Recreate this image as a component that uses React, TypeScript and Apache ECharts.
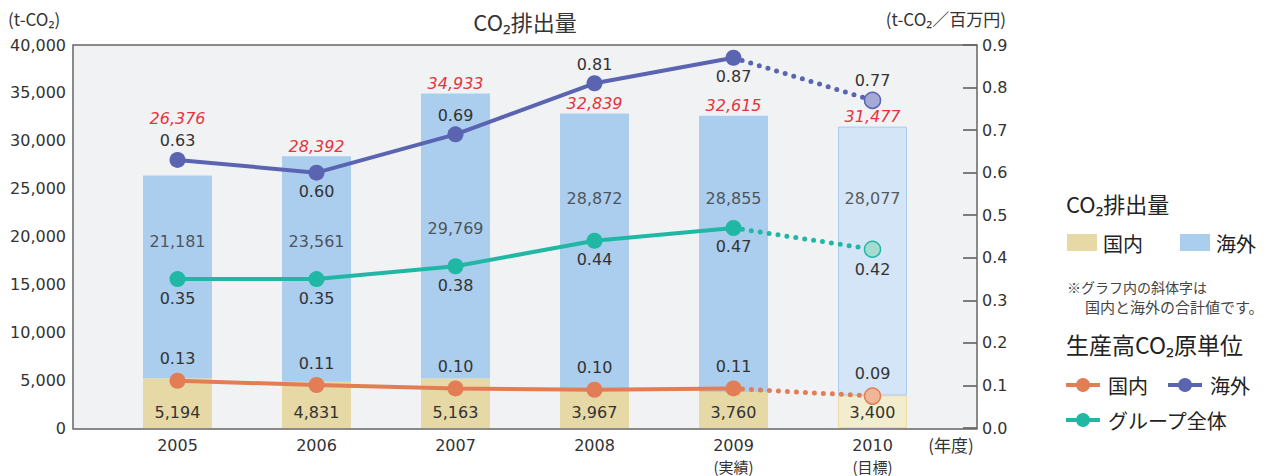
import React, { useEffect, useRef } from "react";
import * as echarts from "echarts";

const years = ["2005", "2006", "2007", "2008", "2009", "2010"];
const yearNotes = ["", "", "", "", "(実績)", "(目標)"];
const domestic = [5194, 4831, 5163, 3967, 3760, 3400];
const overseas = [21181, 23561, 29769, 28872, 28855, 28077];
const totals = [26376, 28392, 34933, 32839, 32615, 31477];
const overseasLabelAt = [19500, 19500, 20800, 24000, 24000, 24000];
const intensityOverseas = [0.63, 0.6, 0.69, 0.81, 0.87, 0.77];
const intensityGroup = [0.35, 0.35, 0.38, 0.44, 0.47, 0.42];
const intensityDomestic = [0.111, 0.101, 0.093, 0.09, 0.093, 0.075];
const intensityDomesticLabels = ["0.13", "0.11", "0.10", "0.10", "0.11", "0.09"];

const FONT = "'Noto Sans CJK JP', 'Noto Sans', sans-serif";
const NUMFONT = "'DejaVu Sans', 'Noto Sans', sans-serif";
const NUMSIZE = 16;
const TXT = "#333";
const C_DOM_BAR = "#e6d9a6";
const C_OVS_BAR = "#abcdee";
const C_ORANGE = "#e27d55";
const C_BLUE = "#5a64b0";
const C_TEAL = "#20b8a5";

const fmt = (v: number) => v.toLocaleString("en-US");

function lineSeries(
  name: string,
  values: number[],
  color: string,
  lightColor: string,
  positions: string[],
  distance: number,
  labelText?: string[]
) {
  const lab = (i: number) => (labelText ? labelText[i] : values[i].toFixed(2));
  const solid = values.map((v, i) =>
    i <= 4
      ? {
          value: v,
          label: { show: true, position: positions[i], formatter: lab(i) },
        }
      : "-"
  );
  const dotted = values.map((v, i) =>
    i >= 4
      ? i === 4
        ? { value: v, symbol: "none", label: { show: false } }
        : {
            value: v,
            itemStyle: { color: lightColor, borderColor: color, borderWidth: 1.5 },
            label: { show: true, position: positions[i], formatter: lab(i) },
          }
      : "-"
  );
  const common = {
    type: "line",
    yAxisIndex: 1,
    symbol: "circle",
    symbolSize: 16,
    itemStyle: { color },
    label: {
      distance,
      color: TXT,
      fontSize: NUMSIZE,
      fontFamily: NUMFONT,
    },
  };
  return [
    {
      ...common,
      name: name + "-dotted",
      data: dotted,
      z: 3,
      lineStyle: { color, width: 5, type: [0, 9], cap: "round" },
    },
    {
      ...common,
      name,
      data: solid,
      z: 4,
      lineStyle: { color, width: 4 },
    },
  ];
}

export default function App() {
  const ref = useRef<HTMLDivElement>(null);
  useEffect(() => {
    if (!ref.current) return;
    const chart = echarts.init(ref.current, undefined, { renderer: "svg" });
    const option: any = {
      animation: false,
      textStyle: { fontFamily: FONT },
      grid: { left: 108, right: 341, top: 45, bottom: 47, containLabel: false },
      xAxis: {
        type: "category",
        data: years,
        axisLine: { show: false },
        axisTick: { show: false },
        axisLabel: {
          margin: 7,
          color: TXT,
          fontSize: NUMSIZE,
          fontFamily: NUMFONT,
          lineHeight: 21,
          formatter: (v: string, i: number) =>
            yearNotes[i] ? `${v}\n{n|${yearNotes[i]}}` : v,
          rich: { n: { fontSize: 15, lineHeight: 20, color: TXT, fontFamily: FONT } },
        },
      },
      yAxis: [
        {
          type: "value",
          min: 0,
          max: 40000,
          interval: 5000,
          offset: 35,
          axisLine: { show: false },
          axisTick: { show: false },
          splitLine: { show: false },
          axisLabel: {
            color: TXT,
            fontSize: NUMSIZE,
            fontFamily: NUMFONT,
            margin: 7,
            formatter: (v: number) => fmt(v),
          },
        },
        {
          type: "value",
          min: 0,
          max: 0.9,
          interval: 0.1,
          offset: 35,
          position: "right",
          axisLine: { show: false },
          axisTick: {
            show: true,
            inside: true,
            length: 14,
            lineStyle: { color: "#555", width: 1.5 },
          },
          splitLine: { show: false },
          axisLabel: {
            color: TXT,
            fontSize: NUMSIZE,
            fontFamily: NUMFONT,
            margin: 5,
            formatter: (v: number) => v.toFixed(1),
          },
        },
      ],
      series: [
        {
          type: "bar",
          name: "国内",
          stack: "co2",
          barWidth: 69,
          data: domestic.map((v, i) =>
            i === 5
              ? {
                  value: v,
                  itemStyle: { color: "#f3edd0", borderColor: "#ebdca4", borderWidth: 1 },
                }
              : v
          ),
          itemStyle: { color: C_DOM_BAR },
          label: {
            show: true,
            position: "insideBottom",
            distance: 8,
            color: TXT,
            fontSize: NUMSIZE,
            fontFamily: NUMFONT,
            formatter: (p: any) => fmt(domestic[p.dataIndex]),
          },
          z: 2,
        },
        {
          type: "bar",
          name: "海外",
          stack: "co2",
          barWidth: 69,
          data: overseas.map((v, i) =>
            i === 0
              ? { value: v, label: { offset: [0, -47] } }
              : i === 5
              ? {
                  value: v,
                  itemStyle: { color: "#d3e5f6", borderColor: "#a9cdee", borderWidth: 1 },
                }
              : v
          ),
          itemStyle: { color: C_OVS_BAR },
          label: {
            show: true,
            position: "top",
            distance: 2,
            color: "#e8323c",
            fontStyle: "italic",
            fontSize: NUMSIZE,
            fontFamily: NUMFONT,
            formatter: (p: any) => fmt(totals[p.dataIndex]),
          },
          z: 2,
        },
        {
          type: "scatter",
          name: "海外値",
          symbolSize: 0,
          data: overseasLabelAt,
          label: {
            show: true,
            position: "inside",
            color: TXT,
            fontSize: NUMSIZE,
            fontFamily: NUMFONT,
            formatter: (p: any) => fmt(overseas[p.dataIndex]),
          },
          z: 3,
        },
        ...lineSeries(
          "国内原単位",
          intensityDomestic,
          C_ORANGE,
          "#f0b698",
          ["top", "top", "top", "top", "top", "top"],
          6,
          intensityDomesticLabels
        ),
        ...lineSeries(
          "海外原単位",
          intensityOverseas,
          C_BLUE,
          "#a5a9d6",
          ["top", "bottom", "top", "top", "bottom", "top"],
          3
        ),
        ...lineSeries(
          "グループ全体",
          intensityGroup,
          C_TEAL,
          "#a6dccf",
          ["bottom", "bottom", "bottom", "bottom", "bottom", "bottom"],
          3
        ),
      ],
      graphic: [
        {
          type: "rect",
          z: -10,
          silent: true,
          shape: { x: 73, y: 45, width: 904, height: 384 },
          style: { fill: "#f1f2f4", stroke: "none" },
        },
        {
          type: "rect",
          z: 100,
          silent: true,
          shape: { x: 73, y: 45, width: 904, height: 384 },
          style: { fill: "none", stroke: "#666", lineWidth: 1.5 },
        },
        {
          type: "text",
          x: 525,
          y: 21,
          style: {
            text: "CO₂排出量",
            fill: TXT,
            font: `22px ${FONT}`,
            align: "center",
            verticalAlign: "middle",
          },
        },
        {
          type: "text",
          x: 8,
          y: 18,
          style: { text: "(t-CO₂)", fill: TXT, font: `17px ${FONT}`, verticalAlign: "middle" },
        },
        {
          type: "text",
          x: 1006,
          y: 18,
          style: {
            text: "(t-CO₂／百万円)",
            fill: TXT,
            font: `17px ${FONT}`,
            align: "right",
            verticalAlign: "middle",
          },
        },
        {
          type: "text",
          x: 951,
          y: 444,
          style: {
            text: "(年度)",
            fill: TXT,
            font: `17px ${FONT}`,
            align: "center",
            verticalAlign: "middle",
          },
        },
        // legend
        {
          type: "text",
          x: 1066,
          y: 203,
          style: { text: "CO₂排出量", fill: "#222", font: `22px ${FONT}`, verticalAlign: "middle" },
        },
        {
          type: "rect",
          shape: { x: 1067, y: 234, width: 30, height: 17 },
          style: { fill: C_DOM_BAR },
        },
        {
          type: "text",
          x: 1103,
          y: 243,
          style: { text: "国内", fill: "#222", font: `20px ${FONT}`, verticalAlign: "middle" },
        },
        {
          type: "rect",
          shape: { x: 1180, y: 234, width: 30, height: 17 },
          style: { fill: C_OVS_BAR },
        },
        {
          type: "text",
          x: 1216,
          y: 243,
          style: { text: "海外", fill: "#222", font: `20px ${FONT}`, verticalAlign: "middle" },
        },
        {
          type: "text",
          x: 1067,
          y: 287,
          style: {
            text: "※グラフ内の斜体字は",
            fill: "#444",
            font: `14px ${FONT}`,
            verticalAlign: "middle",
          },
        },
        {
          type: "text",
          x: 1085,
          y: 306,
          style: {
            text: "国内と海外の合計値です。",
            fill: "#444",
            font: `15px ${FONT}`,
            verticalAlign: "middle",
          },
        },
        {
          type: "text",
          x: 1066,
          y: 344,
          style: {
            text: "生産高CO₂原単位",
            fill: "#222",
            font: `23px ${FONT}`,
            verticalAlign: "middle",
          },
        },
        ...[
          { x: 1066, y: 385, c: C_ORANGE, t: "国内" },
          { x: 1168, y: 385, c: C_BLUE, t: "海外" },
          { x: 1066, y: 420, c: C_TEAL, t: "グループ全体" },
        ].flatMap((l) => [
          {
            type: "line",
            shape: { x1: l.x, y1: l.y, x2: l.x + 34, y2: l.y },
            style: { stroke: l.c, lineWidth: 4 },
          },
          {
            type: "circle",
            shape: { cx: l.x + 17, cy: l.y, r: 7 },
            style: { fill: l.c },
          },
          {
            type: "text",
            x: l.x + 42,
            y: l.y,
            style: { text: l.t, fill: "#222", font: `20px ${FONT}`, verticalAlign: "middle" },
          },
        ]),
      ],
    };
    chart.setOption(option);
    return () => chart.dispose();
  }, []);
  return (
    <div
      ref={ref}
      style={{ position: "fixed", left: 0, top: 0, width: 1283, height: 476, background: "#fff" }}
    />
  );
}
